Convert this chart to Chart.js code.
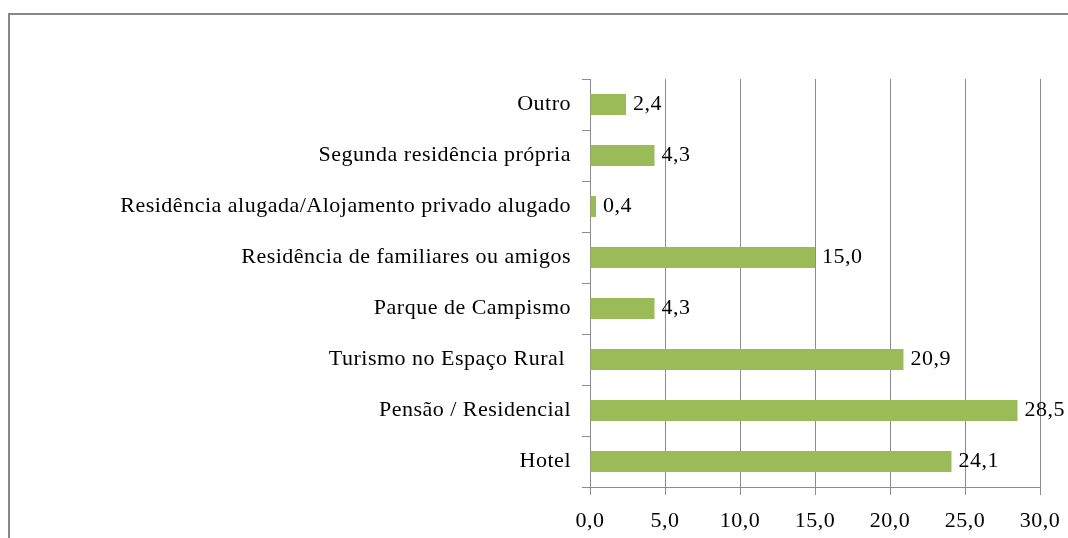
<!DOCTYPE html>
<html>
<head>
<meta charset="utf-8">
<script src="https://cdn.jsdelivr.net/npm/chart.js@4"></script>
<style>
  html, body { margin: 0; padding: 0; background: #fff; }
  #wrap { width: 1068px; height: 538px; position: relative; }
</style>
</head>
<body>
<div id="wrap"><canvas id="chart"></canvas></div>
<script>
const categories = [
  'Outro',
  'Segunda residência própria',
  'Residência alugada/Alojamento privado alugado',
  'Residência de familiares ou amigos',
  'Parque de Campismo',
  'Turismo no Espaço Rural ',
  'Pensão / Residencial',
  'Hotel'
];
const values = [2.4, 4.3, 0.4, 15.0, 4.3, 20.9, 28.5, 24.1];
const xTicks = [0, 5, 10, 15, 20, 25, 30];

const barColor = '#9bbb59';
const lineColor = '#8c8c8c';
const font = { family: '"Liberation Serif", "Times New Roman", serif', size: 22 };

function formatValue(v) {
  return v.toFixed(1).replace('.', ',');
}

// outer frame (only top and left edges are visible in the picture)
const framePlugin = {
  id: 'frame',
  beforeDraw(chart) {
    const ctx = chart.ctx;
    ctx.letterSpacing = '0.5px';
    ctx.save();
    ctx.strokeStyle = '#888';
    ctx.lineWidth = 2;
    ctx.beginPath();
    ctx.moveTo(9, 540);
    ctx.lineTo(9, 14);
    ctx.lineTo(1070, 14);
    ctx.stroke();
    ctx.restore();
  }
};

const labelPlugin = {
  id: 'valueLabels',
  afterDatasetsDraw(chart) {
    const ctx = chart.ctx;
    const meta = chart.getDatasetMeta(0);
    ctx.save();
    ctx.font = `${font.size}px ${font.family}`;
    ctx.fillStyle = '#000';
    ctx.textBaseline = 'middle';
    ctx.textAlign = 'left';
    meta.data.forEach((bar, i) => {
      ctx.fillText(formatValue(values[i]), bar.x + 7, bar.y);
    });
    ctx.restore();
  }
};

new Chart(document.getElementById('chart'), {
  type: 'bar',
  data: {
    labels: categories,
    datasets: [{
      data: values,
      backgroundColor: barColor,
      borderWidth: 0,
      categoryPercentage: 0.82,
      barPercentage: 0.5
    }]
  },
  options: {
    indexAxis: 'y',
    responsive: true,
    maintainAspectRatio: false,
    animation: false,
    layout: { padding: { left: 0, top: 79, right: 28, bottom: 0 } },
    plugins: {
      legend: { display: false },
      tooltip: { enabled: false }
    },
    scales: {
      x: {
        min: 0,
        max: 30,
        afterBuildTicks(scale) {
          scale.ticks = xTicks.map(v => ({ value: v }));
        },
        afterFit(scale) {
          scale.height = 51;
          scale.paddingLeft = 0;
          scale.paddingRight = 0;
        },
        grid: {
          color: lineColor,
          lineWidth: 1,
          drawTicks: true,
          tickLength: 8,
          tickColor: lineColor
        },
        border: { color: lineColor, width: 1 },
        ticks: {
          color: '#000',
          font: font,
          padding: 13,
          maxRotation: 0,
          callback: v => formatValue(v)
        }
      },
      y: {
        offset: true,
        afterFit(scale) { scale.width = 590; },
        grid: {
          offset: true,
          drawOnChartArea: false,
          drawTicks: true,
          tickLength: 8,
          tickColor: lineColor
        },
        border: { color: lineColor, width: 1 },
        ticks: {
          color: '#000',
          font: font,
          padding: 11
        }
      }
    }
  },
  plugins: [framePlugin, labelPlugin]
});
</script>
</body>
</html>
